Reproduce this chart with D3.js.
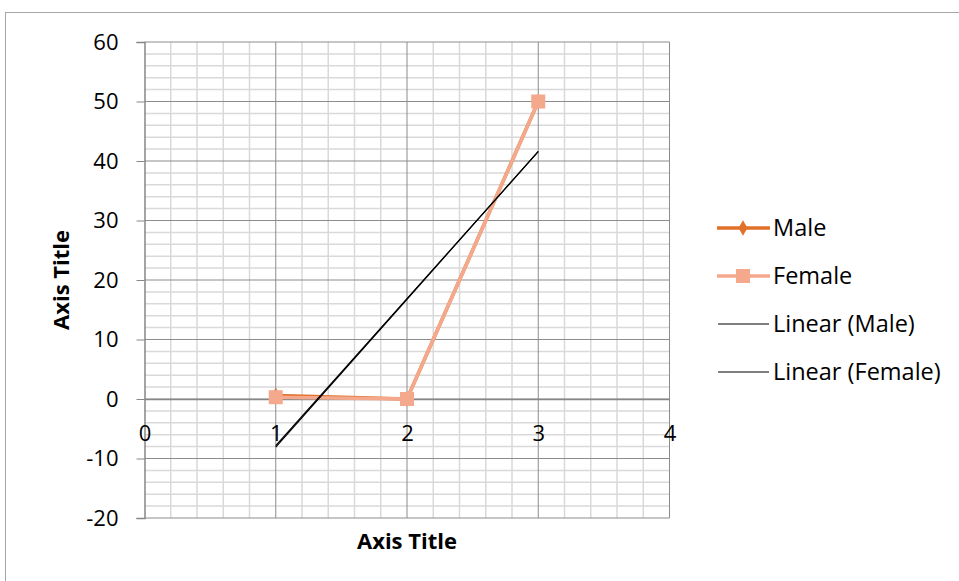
<!DOCTYPE html>
<html>
<head>
<meta charset="utf-8">
<script src="https://cdn.jsdelivr.net/npm/d3@7"></script>
<style>
  html, body { margin: 0; padding: 0; background: #fff; }
  svg { display: block; font-family: "Open Sans", Lato, sans-serif; }
</style>
</head>
<body>
<svg id="chart" width="959" height="581"></svg>
<script>
// Survey counts by group
const xValues = [1, 2, 3];
const maleValues = [0.6, 0, 50];
const femaleValues = [0.3, 0, 50];
const xTicks = [0, 1, 2, 3, 4];
const yTicks = [-20, -10, 0, 10, 20, 30, 40, 50, 60];
const legendLabels = ["Male", "Female", "Linear (Male)", "Linear (Female)"];

const svg = d3.select("#chart");
const W = 959, H = 581;
const FONT = "'Open Sans', Lato, sans-serif";
const FS = 23;

// chart frame
svg.append("rect").attr("x", 5.5).attr("y", 12.5).attr("width", W + 10).attr("height", H + 10)
  .attr("fill", "#fff").attr("stroke", "#a6a6a6").attr("stroke-width", 1);

const x = d3.scaleLinear().domain([0, 4]).range([144.5, 669.5]);
const y = d3.scaleLinear().domain([-20, 60]).range([518, 42]);

const grid = svg.append("g");
// minor gridlines
grid.selectAll(".mx").data(d3.range(0, 4.0001, 0.2).filter(v => Math.abs(v - Math.round(v)) > 1e-6))
  .join("line").attr("x1", d => x(d)).attr("x2", d => x(d)).attr("y1", y(60)).attr("y2", y(-20))
  .attr("stroke", "#d9d9d9").attr("stroke-width", 1.5);
grid.selectAll(".my").data(d3.range(-20, 60.001, 2).filter(v => v % 10 !== 0))
  .join("line").attr("x1", x(0)).attr("x2", x(4)).attr("y1", d => y(d)).attr("y2", d => y(d))
  .attr("stroke", "#d9d9d9").attr("stroke-width", 1.5);
// major gridlines
grid.selectAll(".Mx").data(xTicks.filter(v => v !== 0))
  .join("line").attr("x1", d => x(d)).attr("x2", d => x(d)).attr("y1", y(60)).attr("y2", y(-20))
  .attr("stroke", "#8c8c8c").attr("stroke-width", 1);
grid.selectAll(".My").data(yTicks)
  .join("line").attr("x1", x(0)).attr("x2", x(4)).attr("y1", d => y(d)).attr("y2", d => y(d))
  .attr("stroke", "#8c8c8c").attr("stroke-width", 1);

const fmt = d => String(d);

// y axis
const yAxis = d3.axisLeft(y).tickValues(yTicks).tickSize(8).tickPadding(18).tickFormat(fmt);
const gy = svg.append("g").attr("transform", `translate(${x(0)},0)`).call(yAxis);
gy.select(".domain").attr("stroke", "#868686").attr("stroke-width", 1.5);
gy.selectAll(".tick line").attr("stroke", "#868686");
gy.selectAll(".tick text").attr("font-size", FS - 1).attr("fill", "#000").attr("font-family", FONT);

// x axis crossing at y = 0
const xAxis = d3.axisBottom(x).tickValues(xTicks).tickSize(0).tickPadding(26).tickFormat(fmt);
const gx = svg.append("g").attr("transform", `translate(0,${y(0)})`).call(xAxis);
gx.select(".domain").attr("stroke", "#868686").attr("stroke-width", 1.5);
gx.selectAll(".tick text").attr("font-size", FS - 1).attr("fill", "#000").attr("font-family", FONT);

// least squares trend
function trend(xs, ys) {
  const mx = d3.mean(xs), my = d3.mean(ys);
  const b = d3.sum(xs, (v, i) => (v - mx) * (ys[i] - my)) / d3.sum(xs, v => (v - mx) ** 2);
  const a = my - b * mx;
  return xs.map(v => [v, a + b * v]);
}

const line = d3.line().x(d => x(d[0])).y(d => y(d[1]));
const maleColor = "#e0702a", femaleColor = "#f4a98c";

const maleData = xValues.map((v, i) => [v, maleValues[i]]);
const femaleData = xValues.map((v, i) => [v, femaleValues[i]]);

svg.append("path").datum(maleData).attr("d", line).attr("fill", "none")
  .attr("stroke", maleColor).attr("stroke-width", 3.5);
svg.selectAll(".mm").data(maleData).join("path")
  .attr("transform", d => `translate(${x(d[0])},${y(d[1])})`)
  .attr("d", d3.symbol(d3.symbolDiamond, 70)).attr("fill", maleColor);

svg.append("path").datum(femaleData).attr("d", line).attr("fill", "none")
  .attr("stroke", femaleColor).attr("stroke-width", 3.5);
svg.selectAll(".fm").data(femaleData).join("rect")
  .attr("x", d => x(d[0]) - 7).attr("y", d => y(d[1]) - 7).attr("width", 14).attr("height", 14)
  .attr("fill", femaleColor);

[maleData, femaleData].forEach(ds => {
  svg.append("path").datum(trend(ds.map(d => d[0]), ds.map(d => d[1])))
    .attr("d", line).attr("fill", "none").attr("stroke", "#000").attr("stroke-width", 1.2);
});

// axis titles
svg.append("text").attr("x", 407).attr("y", 549).attr("text-anchor", "middle").attr("font-family", FONT)
  .attr("font-size", FS - 1).attr("font-weight", "bold").text("Axis Title");
svg.append("text").attr("transform", "translate(69,280) rotate(-90)").attr("text-anchor", "middle")
  .attr("font-family", FONT).attr("font-size", FS - 1).attr("font-weight", "bold").text("Axis Title");

// legend
const lg = svg.append("g");
const ly = [228, 276, 324, 372];
legendLabels.forEach((lab, i) => {
  const g = lg.append("g").attr("transform", `translate(0,${ly[i]})`);
  if (i === 0) {
    g.append("line").attr("x1", 717).attr("x2", 770).attr("stroke", maleColor).attr("stroke-width", 3.5);
    g.append("path").attr("transform", "translate(743,0)").attr("d", d3.symbol(d3.symbolDiamond, 70)).attr("fill", maleColor);
  } else if (i === 1) {
    g.append("line").attr("x1", 717).attr("x2", 770).attr("stroke", femaleColor).attr("stroke-width", 3.5);
    g.append("rect").attr("x", 736).attr("y", -7).attr("width", 14).attr("height", 14).attr("fill", femaleColor);
  } else {
    g.append("line").attr("x1", 718).attr("x2", 769).attr("stroke", "#000").attr("stroke-width", 1.2);
  }
  g.append("text").attr("x", 773).attr("y", 8).attr("font-family", FONT).attr("font-size", FS + 0.5).text(lab);
});
</script>
</body>
</html>
